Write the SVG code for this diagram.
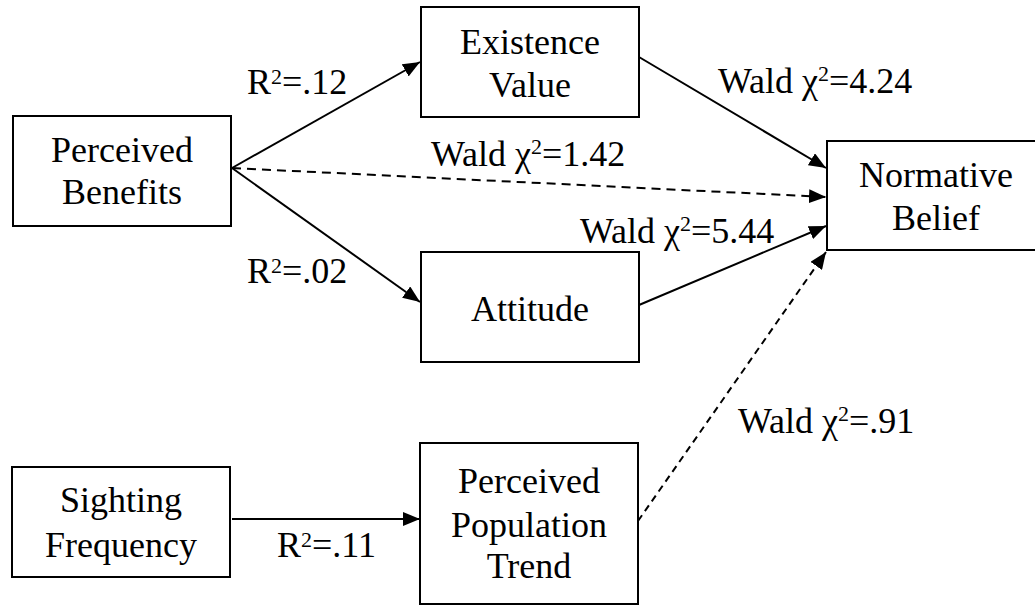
<svg xmlns="http://www.w3.org/2000/svg" width="1035" height="605" viewBox="0 0 1035 605">
<style>
.box{fill:#fff;stroke:#000;stroke-width:2}
.c{text-anchor:middle}
.e{stroke:#000;stroke-width:2;fill:none}
.d{stroke-dasharray:9 6}
.d2{stroke-dasharray:7 5}
</style>
<defs>
<marker id="ah" markerUnits="userSpaceOnUse" markerWidth="18" markerHeight="14" refX="17" refY="7" orient="auto">
<path d="M0,0 L17,7 L0,14 Z" fill="#000"/>
</marker>
</defs>
<rect width="1035" height="605" fill="#fff"/>
<g id="connectors">
<line class="e" x1="232" y1="168" x2="420" y2="62" marker-end="url(#ah)"/>
<line class="e" x1="232" y1="168" x2="420" y2="302" marker-end="url(#ah)"/>
<line class="e d" x1="232" y1="168" x2="826" y2="197" marker-end="url(#ah)"/>
<line class="e" x1="639" y1="57" x2="826" y2="168" marker-end="url(#ah)"/>
<line class="e" x1="639" y1="305" x2="826" y2="226" marker-end="url(#ah)"/>
<line class="e d2" x1="638" y1="521" x2="826" y2="252" marker-end="url(#ah)"/>
<line class="e" x1="232" y1="519" x2="420" y2="519" marker-end="url(#ah)"/>
</g>
<g id="labels">
<text font-family="Liberation Serif, serif" font-size="36" x="247" y="94">R<tspan font-size="22" dy="-10">2</tspan><tspan dy="10">=.12</tspan></text>
<text font-family="Liberation Serif, serif" font-size="36" x="247" y="283">R<tspan font-size="22" dy="-10">2</tspan><tspan dy="10">=.02</tspan></text>
<text font-family="Liberation Serif, serif" font-size="36" x="431" y="166">Wald χ<tspan font-size="22" dy="-12">2</tspan><tspan dy="12">=1.42</tspan></text>
<text font-family="Liberation Serif, serif" font-size="36" x="718" y="93">Wald χ<tspan font-size="22" dy="-12">2</tspan><tspan dy="12">=4.24</tspan></text>
<text font-family="Liberation Serif, serif" font-size="36" x="580" y="243">Wald χ<tspan font-size="22" dy="-12">2</tspan><tspan dy="12">=5.44</tspan></text>
<text font-family="Liberation Serif, serif" font-size="36" x="738" y="433">Wald χ<tspan font-size="22" dy="-12">2</tspan><tspan dy="12">=.91</tspan></text>
<text font-family="Liberation Serif, serif" font-size="36" x="277" y="557">R<tspan font-size="22" dy="-10">2</tspan><tspan dy="10">=.11</tspan></text>
</g>
<g id="perceived-benefits">
<rect class="box" x="13" y="116" width="218" height="110"/>
<text font-family="Liberation Serif, serif" font-size="36" class="c" x="122" y="162">Perceived</text>
<text font-family="Liberation Serif, serif" font-size="36" class="c" x="122" y="204">Benefits</text>
</g>
<g id="existence-value">
<rect class="box" x="421" y="7" width="218" height="110"/>
<text font-family="Liberation Serif, serif" font-size="36" class="c" x="530" y="54">Existence</text>
<text font-family="Liberation Serif, serif" font-size="36" class="c" x="530" y="97">Value</text>
</g>
<g id="attitude">
<rect class="box" x="421" y="252" width="218" height="110"/>
<text font-family="Liberation Serif, serif" font-size="36" class="c" x="530" y="321">Attitude</text>
</g>
<g id="normative-belief">
<rect class="box" x="827" y="141" width="218" height="109"/>
<text font-family="Liberation Serif, serif" font-size="36" class="c" x="936" y="187">Normative</text>
<text font-family="Liberation Serif, serif" font-size="36" class="c" x="936" y="230">Belief</text>
</g>
<g id="sighting-frequency">
<rect class="box" x="12" y="467" width="218" height="110"/>
<text font-family="Liberation Serif, serif" font-size="36" class="c" x="121" y="512">Sighting</text>
<text font-family="Liberation Serif, serif" font-size="36" class="c" x="121" y="557">Frequency</text>
</g>
<g id="perceived-population-trend">
<rect class="box" x="420" y="443" width="218" height="161"/>
<text font-family="Liberation Serif, serif" font-size="36" class="c" x="529" y="493">Perceived</text>
<text font-family="Liberation Serif, serif" font-size="36" class="c" x="529" y="537">Population</text>
<text font-family="Liberation Serif, serif" font-size="36" class="c" x="529" y="578">Trend</text>
</g>
</svg>
